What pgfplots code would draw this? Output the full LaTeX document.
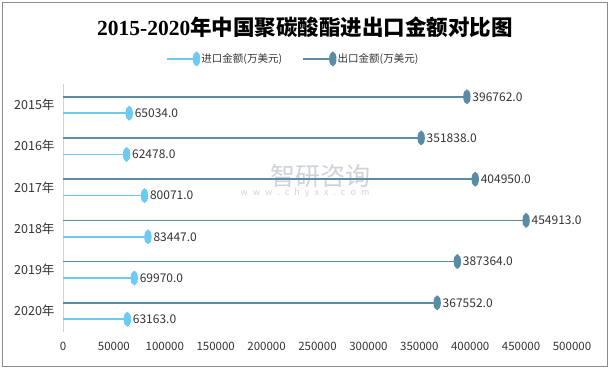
\documentclass[border=0pt]{standalone}
\usepackage{pgfplots}
\pgfplotsset{compat=1.18}
\usepackage{fontspec}
\setmainfont{Noto Sans CJK SC}
\newfontfamily\titlelat{Liberation Serif}
\definecolor{impc}{HTML}{6CCBF3}
\definecolor{expc}{HTML}{5B8CA6}
\definecolor{wm}{HTML}{CDD3D9}
\definecolor{txt}{HTML}{333333}
\begin{document}
\begin{tikzpicture}
\useasboundingbox (0,0) rectangle (610bp,-370bp);
\draw[color=gray!90, line width=1bp] (2bp,-2bp) rectangle (607bp,-366bp);
\node[font=\fontsize{21.5bp}{24bp}\selectfont\bfseries] at (305bp,-27bp) {{\titlelat\bfseries 2015-2020}年中国聚碳酸酯进出口金额对比图};
% watermark
\node[text=wm, font=\fontsize{25bp}{27bp}\selectfont] at (320bp,-176bp) {智研咨询};
\node[text=wm, font=\fontsize{9bp}{10bp}\selectfont] at (305bp,-193bp) {w\hspace{5bp}w\hspace{5bp}w\hspace{5bp}.\hspace{5bp}c\hspace{5bp}h\hspace{5bp}y\hspace{5bp}x\hspace{5bp}x\hspace{5bp}.\hspace{5bp}c\hspace{5bp}o\hspace{5bp}m};
\begin{axis}[
  at={(63bp,-331.6bp)}, anchor=south west,
  scale only axis, width=509bp, height=247.2bp,
  xmin=0, xmax=500000,
  ymin=-0.5, ymax=5.5, y dir=reverse,
  xtick={0,50000,100000,150000,200000,250000,300000,350000,400000,450000,500000},
  scaled x ticks=false,
  xticklabel={\pgfmathprintnumber[fixed,precision=0,1000 sep={},assume math mode=true]{\tick}},
  xticklabel style={font=\fontsize{11.5bp}{13bp}\selectfont, text=txt, yshift=-7bp},
  ytick={0,1,2,3,4,5},
  yticklabels={2015年,2016年,2017年,2018年,2019年,2020年},
  yticklabel style={font=\fontsize{12.5bp}{14bp}\selectfont, text=txt, xshift=-5bp},
  major tick length=0pt,
  axis line style={draw=none},
  clip=false,
  point meta=explicit symbolic,
  nodes near coords,
  every node near coord/.append style={anchor=west, xshift=1.5bp, font=\fontsize{12bp}{14bp}\selectfont, text=txt},
  legend columns=2,
  legend style={at={(0.452,1.103)}, anchor=center, draw=none, fill=none, font=\fontsize{10.5bp}{12bp}\selectfont, text=txt, /tikz/every even column/.append style={column sep=18bp}},
  legend image code/.code={\draw[#1, mark=none] (0bp,0bp) -- (30bp,0bp); \draw[#1, draw=none] plot coordinates {(30bp,0bp)};},
]
\draw[gray!35, line width=0.8bp] (axis cs:0,-0.5) -- (axis cs:0,5.5);
\addplot[xcomb, color=impc, line width=1.5bp, mark=*, mark size=6.5bp, mark options={xscale=0.45, fill=impc, draw=impc}] coordinates {
(65034,0.2) [65034.0]
(62478,1.2) [62478.0]
(80071,2.2) [80071.0]
(83447,3.2) [83447.0]
(69970,4.2) [69970.0]
(63163,5.2) [63163.0]
};
\addlegendentry{进口金额(万美元)}
\addplot[xcomb, color=expc, line width=1.5bp, mark=*, mark size=6.5bp, mark options={xscale=0.45, fill=expc, draw=expc}] coordinates {
(396762,-0.2) [396762.0]
(351838,0.8) [351838.0]
(404950,1.8) [404950.0]
(454913,2.8) [454913.0]
(387364,3.8) [387364.0]
(367552,4.8) [367552.0]
};
\addlegendentry{出口金额(万美元)}
\end{axis}
\end{tikzpicture}
\end{document}
